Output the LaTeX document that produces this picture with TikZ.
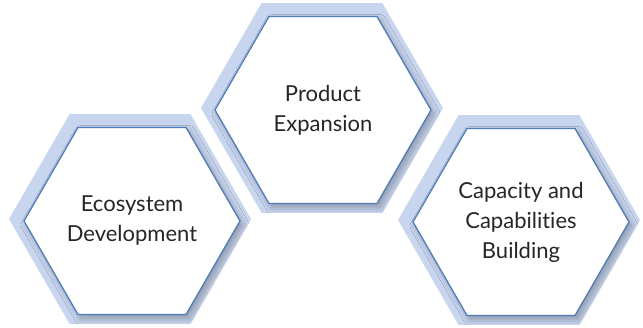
\documentclass[tikz,border=0pt]{standalone}
\usepackage{fontspec}
\setmainfont[Ligatures={NoCommon}]{Lato}
\usetikzlibrary{shapes.geometric, shadows.blur}
\definecolor{hexband}{RGB}{200,213,238}
\definecolor{hexedge}{RGB}{79,125,185}
\definecolor{hextext}{RGB}{38,38,38}

\begin{document}
\begin{tikzpicture}[
  x=1pt, y=-1pt,
  band/.style={regular polygon, regular polygon sides=6, minimum size=242pt,
               inner sep=0pt, outer sep=0pt, fill=hexband},
  cell/.style={regular polygon, regular polygon sides=6, minimum size=216pt,
               inner sep=0pt, outer sep=0pt, fill=white, draw=hexedge,
               line width=1.3pt, text=hextext, align=center,
               font=\fontsize{22}{30}\selectfont,
               blur shadow={shadow xshift=3pt, shadow yshift=-4pt,
                            shadow blur radius=6pt, shadow blur steps=12,
                            shadow opacity=30}}
]
\useasboundingbox (0,0) rectangle (643,328);
\node[band] (EB) at (130,219) {};
\node[band] (PB) at (322,108) {};
\node[band] (CB) at (519,220) {};
\node[cell] (E) at (132,221) {Ecosystem\\Development};
\node[cell] (P) at (323,110) {Product\\Expansion};
\node[cell] (C) at (521,222) {Capacity and\\Capabilities\\Building};
\end{tikzpicture}
\end{document}
